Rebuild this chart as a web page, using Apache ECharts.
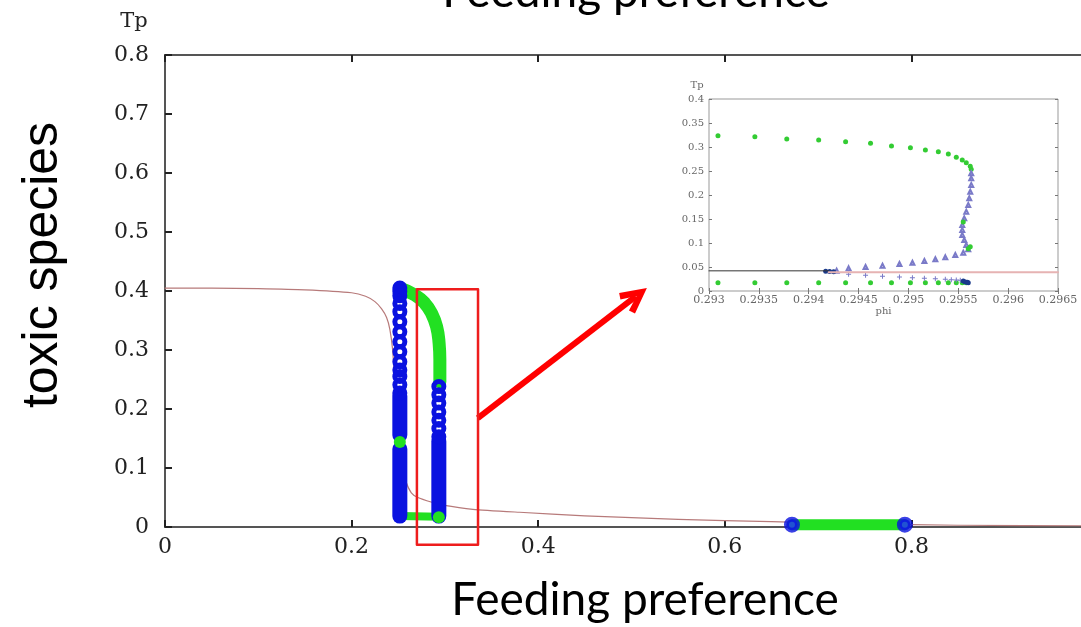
<!DOCTYPE html>
<html>
<head>
<meta charset="utf-8">
<script src="https://cdn.jsdelivr.net/npm/echarts@6/dist/echarts.min.js"></script>
<style>
  html, body { margin: 0; padding: 0; background: #fff; }
  #main { width: 1081px; height: 627px; }
</style>
</head>
<body>
<div id="main"></div>
<script>
// main plot: Tp against feeding preference
var tpCurve = [[0, 0.405], [0.05, 0.405], [0.1, 0.404], [0.15, 0.402], [0.2, 0.397], [0.215, 0.391],
  [0.225, 0.382], [0.232, 0.37], [0.2375, 0.355], [0.241, 0.335], [0.244, 0.3], [0.246, 0.25],
  [0.248, 0.2], [0.25, 0.15], [0.253, 0.11], [0.258, 0.078], [0.264, 0.058], [0.271, 0.05],
  [0.286, 0.042], [0.298, 0.037], [0.33, 0.03], [0.38, 0.025], [0.45, 0.019], [0.55, 0.013],
  [0.65, 0.009], [0.75, 0.005], [0.85, 0.003], [1.0, 0.002]];

var colAX = 0.2517;
var colARings = [0.405, 0.399, 0.392, 0.379, 0.365, 0.348, 0.331, 0.314, 0.297, 0.28, 0.266, 0.255, 0.241, 0.227];
var colADense = [[0.222, 0.156], [0.132, 0.0185]];
var colBX = 0.2935;
var colBRings = [0.238, 0.224, 0.21, 0.195, 0.181, 0.167, 0.153];
var colBDense = [[0.145, 0.0185]];

var greenArc = [[0.2517, 0.4046], [0.2678, 0.3932], [0.2785, 0.3792], [0.2857, 0.3622],
  [0.2911, 0.3395], [0.2938, 0.3114], [0.2946, 0.2831], [0.2946, 0.2463]];
var greenBase = [[0.2517, 0.0186], [0.2946, 0.0175]];
var greenDots = [[0.2517, 0.144], [0.2935, 0.0165]];
var lowGreen = [[0.672, 0.004], [0.793, 0.004]];
var lowBlue = [[0.672, 0.004], [0.793, 0.004]];

// red box and arrow pointing at the inset
var zoomBox = [[0.27, 0.403], [0.3355, 0.403], [0.3355, -0.03], [0.27, -0.03], [0.27, 0.403]];
var arrowFrom = [0.3353, 0.1847];
var arrowTo = [0.5046, 0.3907];

// inset: close-up around phi = 0.295
var insetBlack = [[0.293, 0.042], [0.2942, 0.042]];
var insetPink = [[0.2942, 0.039], [0.2965, 0.039]];
var insetGreenTop = [[0.29309, 0.3236], [0.29346, 0.3215], [0.29378, 0.3167], [0.2941, 0.3146],
  [0.29437, 0.311], [0.29462, 0.3076], [0.29483, 0.302], [0.29502, 0.2986], [0.29517, 0.2938],
  [0.2953, 0.2903], [0.2954, 0.2854], [0.29548, 0.2785], [0.29554, 0.273], [0.29558, 0.2674],
  [0.29562, 0.26], [0.29563, 0.2535]];
var insetGreenLow = [[0.29309, 0.0174], [0.29346, 0.0174], [0.29378, 0.0174], [0.2941, 0.0174],
  [0.29437, 0.0174], [0.29462, 0.0174], [0.29483, 0.0174], [0.29502, 0.0174], [0.29517, 0.0174],
  [0.2953, 0.0174], [0.2954, 0.0174], [0.29548, 0.0174], [0.29554, 0.0174], [0.29558, 0.0174]];
var insetGreenMid = [[0.29555, 0.144], [0.29562, 0.092], [0.2956, 0.088]];
var insetUpper = [[0.29563, 0.2451], [0.29563, 0.2347], [0.29563, 0.2208], [0.29562, 0.2069],
  [0.29561, 0.1931], [0.2956, 0.1792], [0.29558, 0.1653], [0.29556, 0.1514], [0.29554, 0.1375],
  [0.29554, 0.1271], [0.29554, 0.1167], [0.29556, 0.1063], [0.29558, 0.0958], [0.2956, 0.0868],
  [0.29555, 0.0799], [0.29547, 0.075], [0.29537, 0.0701], [0.29527, 0.066], [0.29516, 0.0625],
  [0.29504, 0.059], [0.29491, 0.0562], [0.29474, 0.0528], [0.29457, 0.05], [0.2944, 0.0472],
  [0.29428, 0.0424]];
var insetLower = [[0.2944, 0.0347], [0.29457, 0.0326], [0.29474, 0.0306], [0.29491, 0.0292],
  [0.29504, 0.0278], [0.29516, 0.0264], [0.29527, 0.0257], [0.29537, 0.0243], [0.29543, 0.0236],
  [0.29548, 0.0229], [0.29552, 0.0222]];
var insetBlob = [[0.29417, 0.041], [0.29421, 0.0405], [0.29425, 0.04], [0.29555, 0.021],
  [0.29557, 0.019], [0.29559, 0.018], [0.2956, 0.017]];

var BLUE = '#0a12e0';
var GREEN = '#22e022';
var serif = '"DejaVu Serif", serif';

var myChart = echarts.init(document.getElementById('main'));

function rings(x, ys) {
  return {
    type: 'scatter', silent: true, symbol: 'circle', symbolSize: 10, z: 3,
    data: ys.map(function (y) { return [x, y]; }),
    itemStyle: { color: 'rgba(0,0,0,0)', borderColor: BLUE, borderWidth: 5, opacity: 1 }
  };
}
function dense(x, ranges) {
  return ranges.map(function (r) {
    return {
      type: 'line', silent: true, symbol: 'none', data: [[x, r[0]], [x, r[1]]], z: 3,
      lineStyle: { color: BLUE, width: 15, cap: 'round' }
    };
  });
}
function plain(data, color, width, extra) {
  var s = { type: 'line', silent: true, symbol: 'none', data: data,
    lineStyle: { color: color, width: width, cap: 'round', join: 'round' } };
  for (var k in extra) s[k] = extra[k];
  return s;
}
function dots(data, symbol, size, color, xi, yi) {
  return { type: 'scatter', silent: true, symbol: symbol, symbolSize: size, data: data,
    xAxisIndex: xi, yAxisIndex: yi, itemStyle: { color: color, opacity: 1 } };
}
function insetLine(data, color, width) {
  var s = plain(data, color, width);
  s.xAxisIndex = 2; s.yAxisIndex = 1;
  return s;
}

var mainLabel = { fontFamily: serif, fontSize: 22, color: '#222' };
var insetLabel = { fontFamily: serif, fontSize: 11, color: '#666' };

var plusPath = 'path://M2,0H3V2H5V3H3V5H2V3H0V2H2Z';
var chevron = 'path://M13,0L26,25L20,28L13,13L6,28L0,25Z';

var series = [
  plain(tpCurve, '#b77a7a', 1.2, { smooth: 0.2 }),
  plain(greenArc, GREEN, 13, { smooth: true }),
  plain(greenBase, GREEN, 8)
];
series = series.concat(dense(colAX, colADense), dense(colBX, colBDense));
series.push(rings(colAX, colARings), rings(colBX, colBRings));
var gd = dots(greenDots, 'circle', 12, GREEN, 0, 0);
gd.z = 4;
series.push(gd);
series.push(plain(lowGreen, GREEN, 11));
series.push({
  type: 'scatter', silent: true, symbol: 'circle', symbolSize: 11, data: lowBlue, z: 4,
  itemStyle: { color: '#2030ff', borderColor: BLUE, borderWidth: 5 }
});
series.push(plain(zoomBox, '#ee1d1d', 2.5, { clip: false, z: 5 }));
series.push({
  type: 'line', silent: true, symbol: 'none', data: [], z: 6,
  markLine: {
    silent: true, symbol: ['none', chevron], symbolSize: [26, 28],
    label: { show: false },
    lineStyle: { color: '#ff0000', width: 6, type: 'solid' },
    emphasis: { disabled: true },
    data: [[{ coord: arrowFrom }, { coord: arrowTo }]]
  }
});

// inset series
series.push(insetLine(insetBlack, '#333', 1));
series.push(insetLine(insetPink, '#e6b3b3', 2));
series.push(dots(insetGreenTop, 'circle', 5, '#33cc33', 2, 1));
series.push(dots(insetGreenLow, 'circle', 5, '#33cc33', 2, 1));
series.push(dots(insetUpper, 'emptyTriangle', 4, '#7a7ac8', 2, 1));
series.push(dots(insetLower, plusPath, 5, '#7a7ac8', 2, 1));
series.push(dots(insetGreenMid, 'circle', 5, '#33cc33', 2, 1));
series.push(dots(insetBlob, 'circle', 5, '#1a3a8a', 2, 1));

var option = {
  animation: false,
  backgroundColor: '#fff',
  grid: [
    { left: 165, right: -17, top: 55, bottom: 100, show: true, borderColor: '#555', borderWidth: 2,
      backgroundColor: 'rgba(0,0,0,0)', outerBoundsMode: 'none', containLabel: false },
    { left: 709, right: 23, top: 99, bottom: 336, show: true, borderColor: '#999', borderWidth: 1,
      backgroundColor: '#fff', outerBoundsMode: 'none', containLabel: false }
  ],
  xAxis: [
    { type: 'value', gridIndex: 0, min: 0, max: 1, interval: 0.2,
      axisLine: { show: true, lineStyle: { color: '#555', width: 2 } },
      axisTick: { show: true, inside: true, length: 7, lineStyle: { color: '#222', width: 2 } },
      axisLabel: Object.assign({ margin: 9 }, mainLabel),
      splitLine: { show: false } },
    { type: 'value', gridIndex: 0, position: 'top', min: 0, max: 1, interval: 0.2,
      axisLine: { show: false },
      axisTick: { show: true, inside: true, length: 7, lineStyle: { color: '#222', width: 2 } },
      axisLabel: { show: false }, splitLine: { show: false } },
    { type: 'value', gridIndex: 1, min: 0.293, max: 0.2965, interval: 0.0005,
      name: 'phi', nameLocation: 'middle', nameGap: 15,
      nameTextStyle: { fontFamily: serif, fontSize: 10, color: '#666' },
      axisLine: { show: false },
      axisTick: { show: true, inside: true, length: 3, lineStyle: { color: '#777' } },
      axisLabel: Object.assign({ margin: 4, showMinLabel: true, showMaxLabel: true,
        formatter: function (v) { return String(+v.toFixed(4)); } }, insetLabel),
      splitLine: { show: false } },
    { type: 'value', gridIndex: 1, position: 'top', min: 0.293, max: 0.2965, interval: 0.0005,
      axisLine: { show: false },
      axisTick: { show: true, inside: true, length: 3, lineStyle: { color: '#777' } },
      axisLabel: { show: false }, splitLine: { show: false } }
  ],
  yAxis: [
    { type: 'value', gridIndex: 0, min: 0, max: 0.8, interval: 0.1,
      axisLine: { show: true, lineStyle: { color: '#555', width: 2 } },
      axisTick: { show: true, inside: true, length: 7, lineStyle: { color: '#222', width: 2 } },
      axisLabel: Object.assign({ margin: 16 }, mainLabel),
      splitLine: { show: false } },
    { type: 'value', gridIndex: 1, min: 0, max: 0.4, interval: 0.05,
      axisLine: { show: false },
      axisTick: { show: true, inside: true, length: 3, lineStyle: { color: '#777' } },
      axisLabel: Object.assign({ margin: 5 }, insetLabel, { fontSize: 10 }),
      splitLine: { show: false } },
    { type: 'value', gridIndex: 1, position: 'right', min: 0, max: 0.4, interval: 0.05,
      axisLine: { show: false },
      axisTick: { show: true, inside: true, length: 3, lineStyle: { color: '#777' } },
      axisLabel: { show: false }, splitLine: { show: false } }
  ],
  graphic: [
    { type: 'text', x: 636, y: -8, silent: true,
      style: { text: 'Feeding preference', font: '46px Lato', fill: '#000', align: 'center', verticalAlign: 'middle' } },
    { type: 'text', x: 645, y: 600, silent: true,
      style: { text: 'Feeding preference', font: '46px Lato', fill: '#000', align: 'center', verticalAlign: 'middle' } },
    { type: 'text', x: 43, y: 265, rotation: Math.PI / 2, silent: true,
      style: { text: 'toxic species', font: '50px "Liberation Sans"', fill: '#000', align: 'center', verticalAlign: 'middle' } },
    { type: 'text', x: 134, y: 22, silent: true,
      style: { text: 'Tp', font: '21px "DejaVu Serif"', fill: '#222', align: 'center', verticalAlign: 'middle' } },
    { type: 'text', x: 697, y: 85, silent: true,
      style: { text: 'Tp', font: '10px "DejaVu Serif"', fill: '#666', align: 'center', verticalAlign: 'middle' } }
  ],
  series: series
};

myChart.setOption(option);
</script>
</body>
</html>
